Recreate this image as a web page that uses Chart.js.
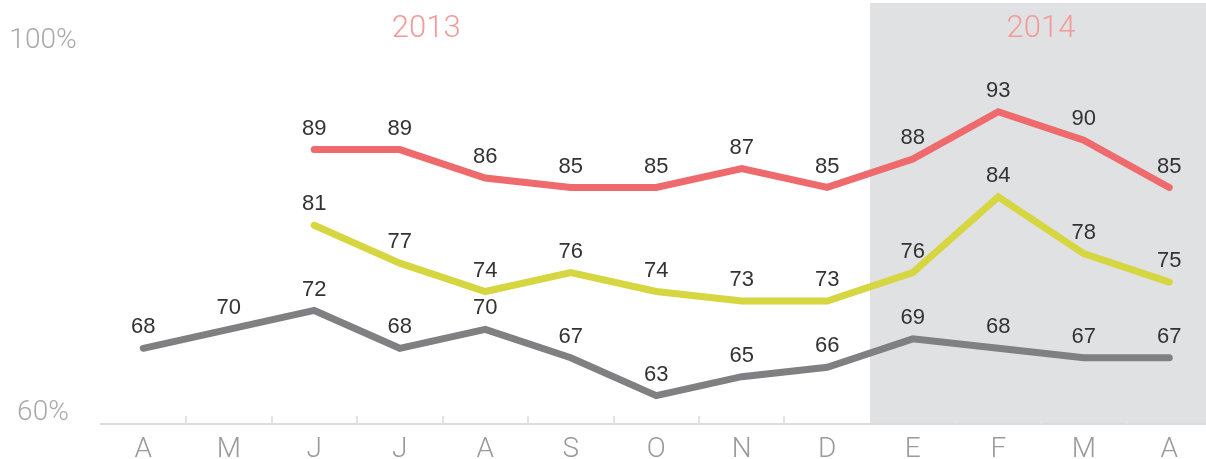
<!DOCTYPE html>
<html>
<head>
<meta charset="utf-8">
<script src="https://cdn.jsdelivr.net/npm/chart.js@4"></script>
<style>
  html, body { margin: 0; padding: 0; background: #fff; overflow: hidden; }
  #wrap { position: absolute; left: 0; top: 0; width: 1214px; height: 459px; }
</style>
</head>
<body>
<div id="wrap"><canvas id="grafico"></canvas></div>
<script>
// meses abril 2013 - abril 2014
const meses = ['A', 'M', 'J', 'J', 'A', 'S', 'O', 'N', 'D', 'E', 'F', 'M', 'A'];
const serieRoja = [null, null, 89, 89, 86, 85, 85, 87, 85, 88, 93, 90, 85];
const serieAmarilla = [null, null, 81, 77, 74, 76, 74, 73, 73, 76, 84, 78, 75];
const serieGris = [68, 70, 72, 68, 70, 67, 63, 65, 66, 69, 68, 67, 67];
const etiquetasY = [100, 60];
const anios = ['2013', '2014'];
const inicio2014 = 9; // índice de "E"

const LIGHT = '"Helvetica Neue", Roboto, "Liberation Sans", sans-serif';

const decoracion = {
  id: 'decoracion',
  beforeDraw(chart) {
    const { ctx, chartArea, scales } = chart;
    const paso = scales.x.getPixelForValue(1) - scales.x.getPixelForValue(0);
    const x0 = scales.x.getPixelForValue(inicio2014) - paso / 2;
    ctx.save();
    ctx.fillStyle = '#e0e1e3';
    ctx.fillRect(x0, 3, chartArea.right + 10 - x0, chartArea.bottom - 3);
    ctx.restore();
  },
  beforeDatasetsDraw(chart) {
    const { ctx, chartArea, scales } = chart;
    const x = scales.x, y = scales.y;
    const paso = x.getPixelForValue(1) - x.getPixelForValue(0);
    ctx.save();
    // marcas cortas entre meses
    ctx.strokeStyle = '#e2e2e2';
    ctx.lineWidth = 2;
    for (let i = 0; i < meses.length - 1; i++) {
      const px = Math.round(x.getPixelForValue(i) + paso / 2);
      if (i === inicio2014 - 1) continue;
      ctx.beginPath();
      ctx.moveTo(px, chartArea.bottom);
      ctx.lineTo(px, chartArea.bottom - 8);
      ctx.stroke();
    }
    // etiquetas eje y
    ctx.font = '300 28px ' + LIGHT;
    ctx.fillStyle = '#a9a9a9';
    ctx.textAlign = 'center';
    ctx.textBaseline = 'middle';
    ctx.fillText(etiquetasY[0] + '%', 43, y.getPixelForValue(etiquetasY[0]) - 5);
    ctx.fillText(etiquetasY[1] + '%', 43, y.getPixelForValue(etiquetasY[1]) - 11);
    // años
    ctx.font = '300 31px ' + LIGHT;
    ctx.fillStyle = '#f29b9b';
    ctx.fillText(anios[0], x.getPixelForValue(3) + paso * 0.31, 29);
    ctx.fillText(anios[1], x.getPixelForValue(10) + paso * 0.5, 29);
    ctx.restore();
  },
  afterDatasetsDraw(chart) {
    const { ctx } = chart;
    ctx.save();
    ctx.font = '22px "Liberation Sans", Arial, sans-serif';
    ctx.fillStyle = '#333';
    ctx.textAlign = 'center';
    ctx.textBaseline = 'middle';
    chart.data.datasets.forEach((ds, i) => {
      chart.getDatasetMeta(i).data.forEach((pt, j) => {
        const v = ds.data[j];
        if (v === null) return;
        ctx.fillText(String(v), pt.x, pt.y - 21);
      });
    });
    ctx.restore();
  }
};

const linea = (datos, color) => ({
  data: datos,
  borderColor: color,
  borderWidth: 7,
  borderCapStyle: 'round',
  borderJoinStyle: 'miter',
  pointRadius: 0,
  pointHoverRadius: 0,
  tension: 0,
  fill: false
});

new Chart(document.getElementById('grafico'), {
  type: 'line',
  data: {
    labels: meses,
    datasets: [
      linea(serieRoja, '#ee6a6c'),
      linea(serieAmarilla, '#d5d640'),
      linea(serieGris, '#808083')
    ]
  },
  options: {
    responsive: true,
    maintainAspectRatio: false,
    animation: false,
    layout: { padding: { left: 100.5, right: 2, top: 45.5, bottom: -9 } },
    plugins: {
      legend: { display: false },
      tooltip: { enabled: false }
    },
    scales: {
      x: {
        offset: true,
        grid: { display: false },
        border: { display: true, color: '#dcdcdc', width: 2 },
        ticks: {
          padding: 4,
          color: '#9a9a9a',
          font: { family: LIGHT, size: 28, weight: '300', lineHeight: 1.0 },
          maxRotation: 0,
          autoSkip: false
        }
      },
      y: {
        display: false,
        min: 60,
        max: 100
      }
    }
  },
  plugins: [decoracion]
});
</script>
</body>
</html>
